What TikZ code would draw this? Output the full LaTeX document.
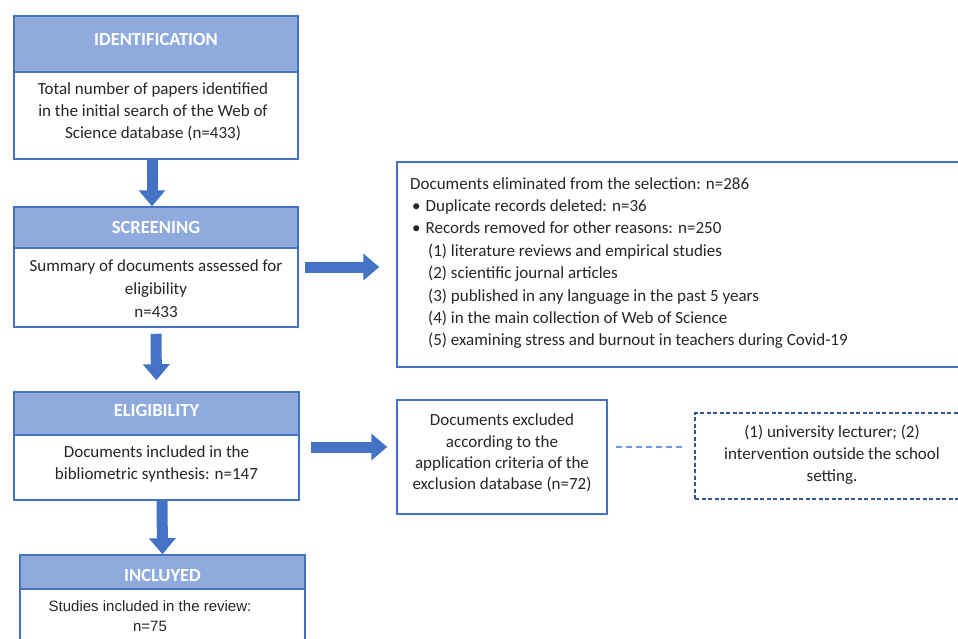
\documentclass[tikz,border=0pt]{standalone}
\usepackage{fontspec}
\setmainfont{Carlito}
\newfontfamily\arialfont{Liberation Sans}
\usetikzlibrary{arrows.meta}
\definecolor{hdrfill}{HTML}{8FAADC}
\definecolor{bord}{HTML}{4472C4}
\definecolor{darkb}{HTML}{2F5597}
\definecolor{dashl}{HTML}{6E9BE0}
\definecolor{txt}{HTML}{262626}
\begin{document}
\begin{tikzpicture}[x=1pt,y=-1pt,
 box/.style={draw=bord, line width=1.5pt, fill=white, inner sep=0pt},
 hdr/.style={draw=bord, line width=1.5pt, fill=hdrfill, inner sep=0pt, text=white, font=\fontsize{18.5}{20}\selectfont\bfseries},
 hdrtext/.style={text=white, font=\fontsize{18.5}{20}\selectfont\bfseries, inner sep=0pt},
 body/.style={font=\fontsize{17}{21.8}\selectfont, text=txt, align=center, inner sep=0pt},
 blockarrow/.style={draw=bord, line width=11pt, -{Triangle[width=26pt,length=16pt]}}
]
\useasboundingbox (0,0) rectangle (958,638);
\clip (0,0) rectangle (958,638);
\fill[white] (0,0) rectangle (958,638);

% IDENTIFICATION
\node[box, minimum width=284, minimum height=87] (idb) at (156,115.5) {};
\node[hdr, minimum width=284, minimum height=56] (idh) at (156,44) {};
\node[hdrtext] (idt) at (156,39.5) {IDENTIFICATION};
\node[body] (idtxt) at (153,112) {Total number of papers identified\\in the initial search of the Web of\\Science database (n=433)};

% SCREENING
\node[box, minimum width=284, minimum height=79] (scrb) at (156,287.5) {};
\node[hdr, minimum width=284, minimum height=41] (scrh) at (156,227.5) {SCREENING};
\node[body, font=\fontsize{17}{23}\selectfont] (scrtxt) at (156,289) {Summary of documents assessed for\\eligibility\\n=433};

% ELIGIBILITY
\node[box, minimum width=285, minimum height=65] (elb) at (156.5,467.5) {};
\node[hdr, minimum width=285, minimum height=43] (elh) at (156.5,413.5) {};
\node[hdrtext] (elt) at (156.5,410.5) {ELIGIBILITY};
\node[body] (eltxt) at (156.5,464) {Documents included in the\\bibliometric synthesis: n=147};

% INCLUYED
\node[box, minimum width=285, minimum height=71] (inb) at (162.5,624.5) {};
\node[hdr, minimum width=285, minimum height=34] (inh) at (162.5,572) {};
\node[hdrtext] (intt) at (162.5,575) {INCLUYED};
\node[font=\arialfont\fontsize{15}{20}\selectfont, text=txt, align=center, inner sep=0pt] (intxt) at (150,616) {Studies included in the review:\\n=75};

% eliminated box
\node[box, minimum width=580, minimum height=205] (elim) at (687,264.5) {};
\node[font=\fontsize{17}{22.4}\selectfont, text=txt, align=left, inner sep=0pt, anchor=north west] (elimtxt) at (410,177)
{Documents eliminated from the selection: n=286\\
\hspace*{2pt}\textbullet\hspace*{5pt}Duplicate records deleted: n=36\\
\hspace*{2pt}\textbullet\hspace*{5pt}Records removed for other reasons: n=250\\
\hspace*{18pt}(1) literature reviews and empirical studies\\
\hspace*{18pt}(2) scientific journal articles\\
\hspace*{18pt}(3) published in any language in the past 5 years\\
\hspace*{18pt}(4) in the main collection of Web of Science\\
\hspace*{18pt}(5) examining stress and burnout in teachers during Covid-19};

% excluded box
\node[box, minimum width=210, minimum height=114] (excl) at (502,457) {};
\node[body, font=\fontsize{17}{21.3}\selectfont] (excltxt) at (502,453) {Documents excluded\\according to the\\application criteria of the\\exclusion database (n=72)};

% dashed box
\node[draw=darkb, line width=1.5pt, dash pattern=on 4pt off 2.5pt, minimum width=280, minimum height=86, inner sep=0pt] (crit) at (835,456) {};
\node[body] (crittxt) at (832,455) {(1) university lecturer; (2)\\intervention outside the school\\setting.};

% arrows
\draw[blockarrow] ([xshift=-4pt]idb.south) -- ([xshift=-4pt]scrh.north);
\draw[blockarrow, shorten <=6pt, shorten >=11pt] (scrb.south) -- (elh.north);
\draw[blockarrow] ([xshift=5.5pt]elb.south) -- (inh.north);
\draw[blockarrow, shorten <=6pt, shorten >=17pt] ([yshift=20.5pt]scrb.east) -- ([yshift=-2.5pt]elim.west);
\draw[blockarrow, shorten <=11pt, shorten >=9pt] ([yshift=20.5pt]elb.east) -- ([yshift=10pt]excl.west);
\draw[dashl, line width=2pt, dash pattern=on 6pt off 4pt, shorten <=8pt, shorten >=12pt] ([yshift=10pt]excl.east) -- ([yshift=9pt]crit.west);
\end{tikzpicture}
\end{document}
